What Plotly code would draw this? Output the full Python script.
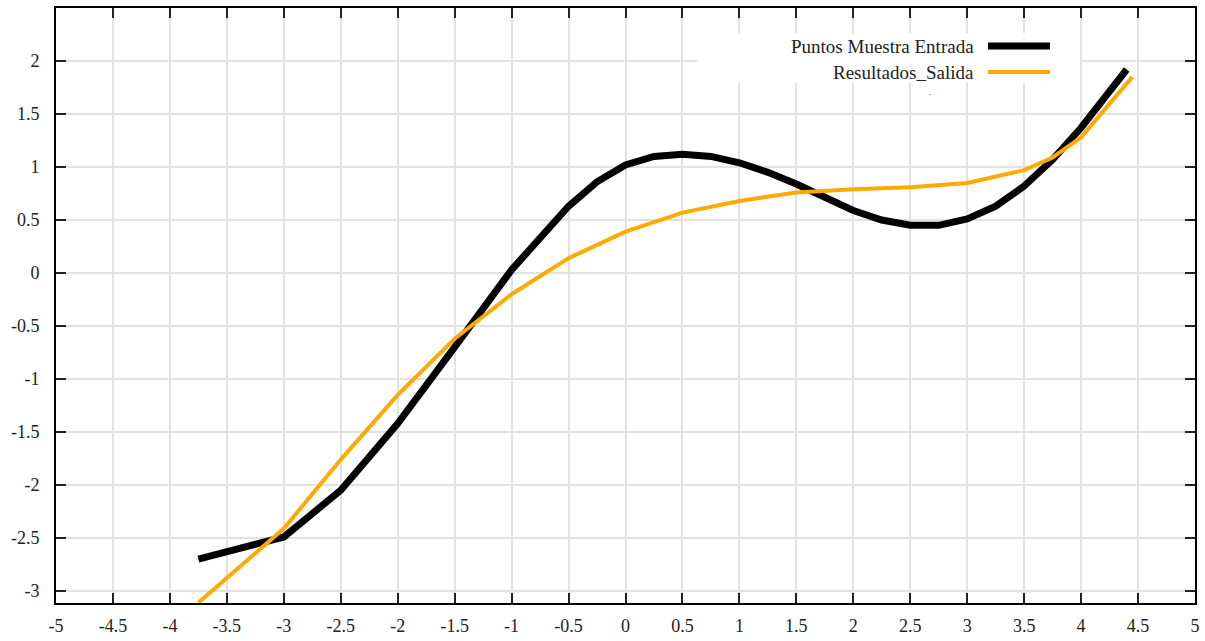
import plotly.graph_objects as go

# Sampled input points (black curve)
x_entrada = [-3.75, -3.0, -2.5, -2.0, -1.5, -1.0, -0.5, -0.25, 0.0, 0.25, 0.5, 0.75,
             1.0, 1.25, 1.5, 1.75, 2.0, 2.25, 2.5, 2.75, 3.0, 3.25, 3.5, 3.75, 4.0, 4.4]
y_entrada = [-2.70, -2.49, -2.05, -1.42, -0.70, 0.03, 0.63, 0.86, 1.02, 1.10, 1.12, 1.10,
             1.04, 0.95, 0.84, 0.71, 0.59, 0.50, 0.45, 0.45, 0.51, 0.63, 0.82, 1.07, 1.37, 1.92]

# Network output (orange curve)
x_salida = [-3.75, -3.0, -2.5, -2.0, -1.5, -1.0, -0.5, 0.0, 0.5, 1.0, 1.5, 2.0,
            2.5, 3.0, 3.5, 3.75, 4.0, 4.45]
y_salida = [-3.11, -2.41, -1.76, -1.15, -0.62, -0.20, 0.14, 0.39, 0.57, 0.68, 0.76, 0.79,
            0.81, 0.85, 0.97, 1.09, 1.28, 1.85]

x_ticks = [-5, -4.5, -4, -3.5, -3, -2.5, -2, -1.5, -1, -0.5, 0, 0.5, 1, 1.5, 2, 2.5, 3, 3.5, 4, 4.5, 5]
y_ticks = [-3, -2.5, -2, -1.5, -1, -0.5, 0, 0.5, 1, 1.5, 2]

serie_names = ["Puntos Muestra Entrada", "Resultados_Salida"]
serie_colors = ["#000000", "#FFAA00"]
serie_widths = [7, 4]

serif = "Liberation Serif, Times New Roman, serif"

fig = go.Figure()
fig.add_trace(go.Scatter(x=x_entrada, y=y_entrada, mode="lines", name=serie_names[0],
                         line=dict(color=serie_colors[0], width=serie_widths[0]),
                         showlegend=False))
fig.add_trace(go.Scatter(x=x_salida, y=y_salida, mode="lines", name=serie_names[1],
                         line=dict(color=serie_colors[1], width=serie_widths[1]),
                         showlegend=False))

axis_common = dict(
    showgrid=True, gridcolor="#e2e2e2", gridwidth=1.5,
    showline=True, linecolor="#000000", linewidth=2, mirror="ticks",
    ticks="inside", ticklen=10, tickcolor="#222222", tickwidth=1.5,
    zeroline=False, automargin=False,
    tickfont=dict(family=serif, size=18, color="#222222"),
)

fig.update_xaxes(range=[-5, 5], tickvals=x_ticks, ticktext=[f"{v:g}" for v in x_ticks],
                 ticklabelstandoff=5, **axis_common)
fig.update_yaxes(range=[-3.113, 2.5], tickvals=y_ticks, ticktext=[f"{v:g}" for v in y_ticks],
                 ticklabelstandoff=11, **axis_common)

# Legend block: white backing, right-aligned labels, line samples on the right
shapes = [dict(type="rect", xref="paper", yref="paper",
               x0=(697 - 56) / 1139, x1=(1080 - 56) / 1139,
               y0=1 - (83 - 8) / 595, y1=1 - (33 - 8) / 595,
               fillcolor="white", line=dict(width=0), layer="above")]
annotations = []
for i, (name, color, width) in enumerate(zip(serie_names, serie_colors, serie_widths)):
    ypix = 46 + 26 * i
    yp = 1 - (ypix - 8) / 595
    shapes.append(dict(type="line", xref="paper", yref="paper",
                       x0=(988 - 56) / 1139, x1=(1050 - 56) / 1139, y0=yp, y1=yp,
                       line=dict(color=color, width=width), layer="above"))
    annotations.append(dict(xref="paper", yref="paper", x=(976 - 56) / 1139, y=yp,
                            text=name, showarrow=False, xanchor="right", yanchor="middle",
                            font=dict(family=serif, size=19, color="#222222")))
annotations.append(dict(xref="paper", yref="paper", x=(930 - 56) / 1139, y=1 - (92 - 8) / 595,
                        text=".", showarrow=False, xanchor="center", yanchor="middle",
                        font=dict(family=serif, size=9, color="#444444")))

fig.update_layout(
    width=1205, height=641,
    margin=dict(l=56, r=10, t=8, b=38),
    paper_bgcolor="white", plot_bgcolor="white",
    shapes=shapes, annotations=annotations,
    showlegend=False,
)

fig.write_html("out.html")
